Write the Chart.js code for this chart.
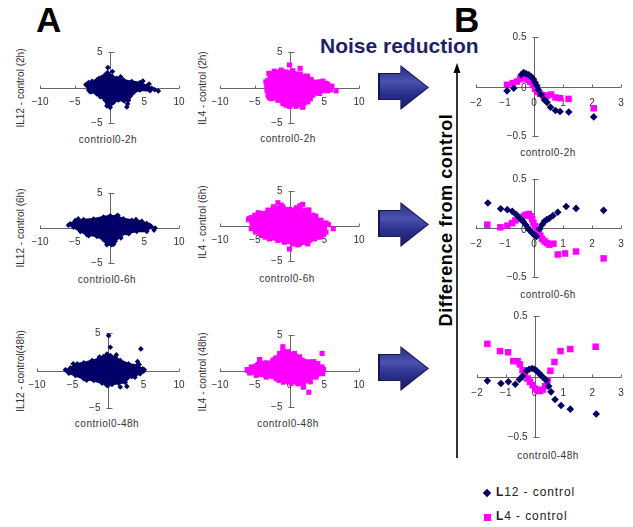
<!DOCTYPE html>
<html>
<head>
<meta charset="utf-8">
<script src="https://cdn.jsdelivr.net/npm/chart.js@4.4.1/dist/chart.umd.min.js"></script>
<style>
  body { margin: 0; background: #fff; width: 633px; height: 527px; overflow: hidden; position: relative; font-family: "Liberation Sans", Arial, sans-serif; }
  canvas { position: absolute; left: 0; top: 0; }
  .t { position: absolute; white-space: nowrap; color: #333; font-size: 10px; transform: translate(-50%, -50%); letter-spacing: 0.5px; }
  .ty { position: absolute; white-space: nowrap; color: #333; font-size: 10px; transform: translate(-50%, -50%) rotate(-90deg); }
  .big { position: absolute; font-weight: bold; font-size: 35px; font-family: "Liberation Sans", Arial, sans-serif; color: #000; line-height: 1; }
  .arrow { position: absolute; width: 51px; height: 45px; background: #141650;
    clip-path: polygon(0 18%, 44% 18%, 44% 0, 100% 50%, 44% 100%, 44% 78%, 0 78%); }
  .arrow::after { content: ''; position: absolute; left: 1.5px; top: 1.5px; right: 1.5px; bottom: 1.5px;
    background: linear-gradient(180deg, #2a2f80 0%, #4a52b0 35%, #2c3290 60%, #1a1d62 100%);
    clip-path: polygon(0 18%, 44% 18%, 44% 0, 100% 50%, 44% 100%, 44% 78%, 0 78%); }
  .leg { position: absolute; font-size: 12px; letter-spacing: 0.9px; color: #222; }
</style>
</head>
<body>
<div class="big" style="left:36px;top:2px">A</div>
<div class="big" style="left:454px;top:2px">B</div>
<div style="position:absolute;left:320px;top:34px;font-weight:bold;font-size:21px;color:#1f1f68;white-space:nowrap">Noise reduction</div>

<div class="arrow" style="left:378px;top:65px"></div>
<div class="arrow" style="left:378px;top:202px"></div>
<div class="arrow" style="left:378px;top:346px"></div>

<svg width="633" height="527" style="position:absolute;left:0;top:0">
  <line x1="457" y1="70" x2="457" y2="458" stroke="#000" stroke-width="1.6"/>
  <polygon points="457,63 453.5,73 460.5,73" fill="#000"/>
</svg>
<div style="position:absolute;left:446px;top:220px;transform:translate(-50%,-50%) rotate(-90deg);font-weight:bold;font-size:18px;letter-spacing:0.6px;white-space:nowrap;color:#000">Difference from control</div>

<div class="t" style="left:108px;top:139px">contriol0-2h</div>
<div class="t" style="left:288px;top:138px">control0-2h</div>
<div class="t" style="left:107px;top:279px">contriol0-6h</div>
<div class="t" style="left:287px;top:278px">control0-6h</div>
<div class="t" style="left:107px;top:423px">contriol0-48h</div>
<div class="t" style="left:288px;top:423px">control0-48h</div>
<div class="ty" style="left:20px;top:88px">IL12 - control (2h)</div>
<div class="ty" style="left:202px;top:88px">IL4 - control (2h)</div>
<div class="ty" style="left:20px;top:228px">IL12 - control (6h)</div>
<div class="ty" style="left:202px;top:222px">IL4 - control (6h)</div>
<div class="ty" style="left:20px;top:371px">IL12 - control(48h)</div>
<div class="ty" style="left:202px;top:372px">IL4 - control (48h)</div>
<div class="t" style="left:548px;top:152px">control0-2h</div>
<div class="t" style="left:548px;top:294px">control0-6h</div>
<div class="t" style="left:548px;top:455px">control0-48h</div>

<div style="position:absolute;left:484px;top:490px;width:6px;height:6px;background:#000066;transform:rotate(45deg)"></div>
<div class="leg" style="left:496px;top:485px"><b>L</b>12 - control</div>
<div style="position:absolute;left:484px;top:514px;width:7px;height:7px;background:#ff00ff"></div>
<div class="leg" style="left:496px;top:509px"><b>L</b>4 - control</div>

<script>
// tick values and labels
const aTicksX = [-10, -5, 0, 5, 10];
const aLabelsX = ['−10', '−5', '0', '5', '10'];
const aTicksY = [-5, 0, 5];
const aLabelsY = ['−5', '0', '5'];
const bTicksX = [-2, -1, 0, 1, 2, 3];
const bLabelsX = ['−2', '−1', '0', '1', '2', '3'];
const bTicksY = [-0.5, 0, 0.5];
const bLabelsY = ['−0.5', '0', '0.5'];

// panel A: cloud outlines and scattered edge points
const il12_2h_cloud = [[-3.16,0.2],[-3.0,0.69],[-2.5,0.88],[-1.8,1.07],[-1.1,1.45],[-0.62,1.78],[-0.29,2.1],[0.33,1.63],[1.05,1.3],[2.0,1.07],[3.2,0.83],[4.4,0.69],[5.36,0.21],[6.08,-0.12],[5.84,-0.45],[4.4,-0.36],[3.44,-0.73],[2.73,-1.78],[2.1,-1.9],[1.29,-1.75],[0.57,-2.1],[0.1,-2.8],[-0.38,-2.6],[-0.62,-1.78],[-1.34,-1.3],[-1.82,-0.92],[-2.54,-0.59],[-3.0,-0.36],[-3.16,0.2]];
const il12_2h_out = [[-0.24,2.8],[0.43,2.25],[7.03,-0.5],[2.49,-2.73],[2.6,-2.3],[-3.4,0.4],[-2.8,-0.6],[4.8,0.9],[5.7,0.5],[3.0,-1.2],[-1.5,1.3],[1.6,1.5],[6.5,-0.3]];
const il4_2h_cloud = [[-3.25,0.33],[-3.1,1.04],[-2.87,1.9],[-1.9,2.2],[-1.2,2.46],[-0.48,2.2],[0.48,2.37],[1.53,1.9],[2.15,1.6],[3.1,1.14],[4.3,0.8],[5.5,0.47],[6.1,0.19],[5.5,-0.47],[4.3,-0.85],[3.35,-1.09],[2.63,-2.04],[1.9,-2.75],[0.96,-2.65],[0,-2.65],[-0.96,-2.27],[-1.67,-1.8],[-2.63,-1.56],[-3.1,-1.09],[-3.25,-0.38],[-3.25,0.33]];
const il4_2h_out = [[-2.97,2.0],[-0.96,2.2],[0,3.17],[1.53,2.7],[6.7,-0.47],[1.9,-2.75],[-2.63,-1.56],[-3.4,0.8],[-2.2,2.3],[2.6,1.6],[4.8,0.9],[5.9,-0.3],[3.0,-1.6],[-0.5,-2.5],[-2.9,-1.4],[5.2,0.6]];
const il12_6h_cloud = [[-5.65,0.57],[-4.93,1.05],[-3.73,1.19],[-2.3,1.29],[-0.86,1.57],[0.1,1.76],[0.96,1.67],[2.0,1.33],[3.2,1.1],[4.64,0.95],[5.36,0.62],[6.0,0.2],[5.36,-0.48],[3.92,-0.48],[2.49,-0.71],[1.53,-1.19],[0.81,-1.9],[0.33,-2.38],[-0.38,-2.38],[-0.86,-1.67],[-1.82,-1.19],[-3.25,-0.95],[-4.2,-0.48],[-5.17,0.1],[-5.65,0.57]];
const il12_6h_out = [[6.56,0.0],[6.4,-0.3],[1.63,-1.43],[1.2,1.8],[4.9,0.5],[-5.9,0.4],[-4.5,1.3],[-3.0,-1.1],[3.8,1.2],[5.8,0.4],[2.8,-0.8],[0.6,-2.3]];
const il4_6h_cloud = [[-5.74,1.06],[-5.0,1.55],[-4.07,1.79],[-3.1,2.27],[-2.3,2.75],[-0.96,2.75],[0,2.37],[0.96,2.6],[2.39,2.27],[3.35,1.55],[4.55,0.82],[5.26,0.43],[5.26,-0.87],[4.55,-1.5],[3.59,-1.84],[2.63,-2.56],[1.44,-2.56],[0.48,-2.56],[-0.72,-2.32],[-1.67,-2.08],[-2.87,-1.84],[-4.07,-1.35],[-4.88,-0.87],[-5.5,-0.39],[-5.74,1.06]];
const il4_6h_out = [[-1.67,3.33],[1.9,3.09],[1.5,2.9],[6.3,-0.39],[0,-3.29],[-5.5,1.2],[4.9,-1.2],[-5.9,0.9],[-4.5,1.9],[-3.5,-1.6],[3.8,1.4],[5.6,0.2],[4.2,-1.6],[1.2,-2.7],[-1.2,3.0],[2.8,2.3]];
const il12_48h_cloud = [[-5.84,0],[-5.28,0.35],[-4.35,0.88],[-3.41,1.02],[-2.24,1.33],[-1.31,1.55],[-0.61,1.86],[-0.14,2.2],[0.33,2.0],[1.03,1.77],[1.73,1.33],[2.9,0.88],[4.07,0.66],[4.9,0.22],[5.0,-0.09],[4.53,-0.44],[3.36,-0.8],[2.66,-1.1],[2.43,-1.6],[1.5,-1.68],[0.56,-1.86],[-0.14,-2.0],[-0.84,-1.68],[-2.0,-1.33],[-3.41,-1.1],[-4.58,-0.66],[-5.5,-0.35],[-5.84,0]];
const il12_48h_out = [[0.09,4.65],[0.33,3.1],[1.17,2.08],[4.63,2.88],[4.16,1.19],[1.73,-2.2],[2.66,-2.12],[-6.0,0.1],[-4.9,0.9],[-3.0,-1.3],[4.4,0.8],[5.1,0.1],[3.8,-0.9],[-1.2,1.8]];
const il4_48h_cloud = [[-5.98,0.09],[-5.5,0.56],[-4.3,1.4],[-3.35,1.13],[-2.39,1.5],[-1.44,2.44],[-0.96,2.9],[-0.24,2.68],[0.72,2.44],[1.44,1.97],[2.87,1.27],[4.07,1.03],[4.69,0.56],[4.78,-0.38],[3.83,-0.85],[2.63,-1.31],[2.0,-2.0],[1.2,-1.78],[0.24,-1.69],[-0.86,-1.55],[-1.9,-1.08],[-3.35,-0.85],[-4.78,-0.61],[-5.74,-0.28],[-5.98,0.09]];
const il4_48h_out = [[-0.96,3.38],[4.69,2.44],[2.78,-2.96],[2.0,-2.25],[-6.1,0.2],[-4.3,1.6],[-2.0,1.8],[3.5,1.3],[4.9,0.2],[3.0,-1.5],[-1.5,-1.3]];

// panel B: smoothed differences
const b2h_il12 = [[-0.93,-0.044],[-0.7,-0.017],[-0.44,0.118],[-0.36,0.142],[-0.27,0.128],[-0.18,0.118],[-0.1,0.1],[-0.02,0.074],[0.04,0.04],[0.1,0.007],[0.15,-0.034],[0.25,-0.084],[0.36,-0.135],[0.45,-0.16],[0.57,-0.21],[0.74,-0.243],[0.9,-0.253],[1.2,-0.257],[2.06,-0.307]];
const b2h_il4 = [[-0.93,0.017],[-0.73,0.034],[-0.59,0.05],[-0.48,0.074],[-0.38,0.095],[-0.29,0.084],[-0.21,0.068],[-0.13,0.047],[-0.04,0.017],[0.04,-0.024],[0.12,-0.054],[0.21,-0.074],[0.33,-0.088],[0.44,-0.095],[0.59,-0.081],[0.74,-0.111],[0.9,-0.118],[1.19,-0.125],[2.06,-0.22]];
const b6h_il12 = [[-1.59,0.255],[-1.15,0.197],[-0.92,0.187],[-0.75,0.17],[-0.61,0.136],[-0.52,0.11],[-0.44,0.085],[-0.38,0.068],[-0.29,0.034],[-0.21,0.0],[-0.15,-0.024],[-0.06,-0.05],[0.0,-0.07],[0.08,-0.085],[0.19,-0.01],[0.28,0.034],[0.36,0.068],[0.44,0.085],[0.53,0.1],[0.65,0.126],[0.82,0.16],[1.11,0.22],[1.45,0.2],[2.4,0.18]];
const b6h_il4 = [[-1.61,0.034],[-1.16,0.007],[-0.92,0.024],[-0.75,0.05],[-0.64,0.078],[-0.5,0.1],[-0.42,0.11],[-0.33,0.126],[-0.26,0.136],[-0.18,0.143],[-0.12,0.12],[-0.06,0.09],[-0.02,0.05],[0.04,0.017],[0.1,-0.017],[0.17,-0.05],[0.22,-0.08],[0.28,-0.11],[0.36,-0.135],[0.44,-0.153],[0.53,-0.17],[0.67,-0.16],[0.82,-0.27],[1.07,-0.26],[1.45,-0.24],[2.4,-0.31]];
const b48h_il12 = [[-1.64,-0.036],[-1.17,-0.058],[-0.91,-0.044],[-0.67,-0.064],[-0.53,-0.025],[-0.42,0.003],[-0.28,0.047],[-0.19,0.06],[-0.09,0.066],[-0.01,0.06],[0.07,0.047],[0.14,0.03],[0.22,0.011],[0.3,-0.008],[0.4,-0.03],[0.49,-0.08],[0.57,-0.127],[0.71,-0.19],[0.92,-0.24],[1.24,-0.27],[2.14,-0.31]];
const b48h_il4 = [[-1.64,0.27],[-1.2,0.21],[-0.92,0.2],[-0.74,0.127],[-0.59,0.127],[-0.51,0.1],[-0.42,0.052],[-0.33,0.019],[-0.24,-0.017],[-0.16,-0.044],[-0.07,-0.072],[0.02,-0.1],[0.1,-0.113],[0.19,-0.12],[0.28,-0.108],[0.37,-0.08],[0.45,-0.03],[0.55,0.047],[0.69,0.12],[0.9,0.21],[1.24,0.227],[2.12,0.246]];

const BLUE = '#000066';
const PINK = '#ff00ff';
const W = 633, H = 527;

const pts = arr => arr.map(([x, y]) => ({ x, y }));

// axes crossing at the origin, drawn under the points
const crossAxes = {
  id: 'crossAxes',
  beforeDatasetsDraw(chart, args, o) {
    const { ctx, scales: { x, y } } = chart;
    const x0 = Math.round(x.getPixelForValue(0)) + 0.5;
    const y0 = Math.round(y.getPixelForValue(0)) + 0.5;
    ctx.save();
    ctx.strokeStyle = '#666';
    ctx.lineWidth = 1;
    ctx.beginPath();
    ctx.moveTo(x.left, y0); ctx.lineTo(x.right, y0);
    ctx.moveTo(x0, y.top); ctx.lineTo(x0, y.bottom);
    o.xTicks.forEach(v => {
      if (v === 0) return;
      const px = Math.round(x.getPixelForValue(v)) + 0.5;
      ctx.moveTo(px, y0); ctx.lineTo(px, y0 - 3);
    });
    o.yTicks.forEach(v => {
      if (v === 0) return;
      const py = Math.round(y.getPixelForValue(v)) + 0.5;
      ctx.moveTo(x0 - 2, py); ctx.lineTo(x0 + 4, py);
    });
    ctx.stroke();
    ctx.fillStyle = '#333';
    ctx.font = '10px "Liberation Sans", Arial, sans-serif';
    ctx.textAlign = 'center';
    ctx.textBaseline = 'middle';
    o.xTicks.forEach((v, i) => ctx.fillText(o.xLabels[i], x.getPixelForValue(v), y0 + o.xGap));
    ctx.textAlign = 'right';
    o.yTicks.forEach((v, i) => ctx.fillText(o.yLabels[i], x0 - 8, y.getPixelForValue(v) + (v === 0 ? 2 : 0)));
    ctx.restore();
  }
};

function makePanel(frame, ranges, axes, datasets) {
  const c = document.createElement('canvas');
  c.width = W; c.height = H;
  document.body.appendChild(c);
  return new Chart(c, {
    type: 'line',
    data: { datasets },
    options: {
      responsive: false,
      animation: false,
      devicePixelRatio: 1,
      layout: { padding: { left: frame[0], right: W - frame[1], top: frame[2], bottom: H - frame[3] } },
      scales: {
        x: { type: 'linear', min: ranges[0], max: ranges[1], display: false },
        y: { type: 'linear', min: ranges[2], max: ranges[3], display: false }
      },
      plugins: { legend: { display: false }, tooltip: { enabled: false }, crossAxes: axes }
    },
    plugins: [crossAxes]
  });
}

function cloudSets(cloud, out, color, style, r) {
  return [
    { data: pts(cloud), borderColor: color, backgroundColor: color, borderWidth: 2, fill: 'shape',
      pointStyle: style, pointRadius: r, pointBackgroundColor: color, pointBorderWidth: 0, clip: false },
    { data: pts(out), showLine: false, pointStyle: style, pointRadius: r, pointBackgroundColor: color,
      pointBorderWidth: 0, clip: false }
  ];
}

function pairSets(blue, pink) {
  return [
    { data: pts(blue), showLine: false, pointStyle: 'rectRot', pointRadius: 3.8, pointBackgroundColor: BLUE, pointBorderWidth: 0, clip: false },
    { data: pts(pink), showLine: false, pointStyle: 'rect', pointRadius: 4.6, pointBackgroundColor: PINK, pointBorderWidth: 0, clip: false }
  ];
}

const axesA = { xTicks: aTicksX, xLabels: aLabelsX, yTicks: aTicksY, yLabels: aLabelsY, xGap: 14 };
const axesB = { xTicks: bTicksX, xLabels: bLabelsX, yTicks: bTicksY, yLabels: bLabelsY, xGap: 16 };
const rangeA = [-10, 10, -5, 5];
const rangeB = [-2, 3, -0.5, 0.5];

makePanel([40, 179, 52, 123], rangeA, axesA, cloudSets(il12_2h_cloud, il12_2h_out, BLUE, 'rectRot', 2.8));
makePanel([220, 359, 52, 123], rangeA, axesA, cloudSets(il4_2h_cloud, il4_2h_out, PINK, 'rect', 3.6));
makePanel([40, 179, 193, 263], rangeA, axesA, cloudSets(il12_6h_cloud, il12_6h_out, BLUE, 'rectRot', 2.8));
makePanel([220, 359, 191, 261], rangeA, axesA, cloudSets(il4_6h_cloud, il4_6h_out, PINK, 'rect', 3.6));
makePanel([37, 179, 333, 408], rangeA, axesA, cloudSets(il12_48h_cloud, il12_48h_out, BLUE, 'rectRot', 2.8));
makePanel([220, 359, 335, 407], rangeA, axesA, cloudSets(il4_48h_cloud, il4_48h_out, PINK, 'rect', 3.6));

makePanel([476, 621, 37, 136], rangeB, axesB, pairSets(b2h_il12, b2h_il4));
makePanel([476, 621, 179, 277], rangeB, axesB, pairSets(b6h_il12, b6h_il4));
makePanel([477, 621, 316, 437], rangeB, axesB, pairSets(b48h_il12, b48h_il4));
</script>
</body>
</html>
